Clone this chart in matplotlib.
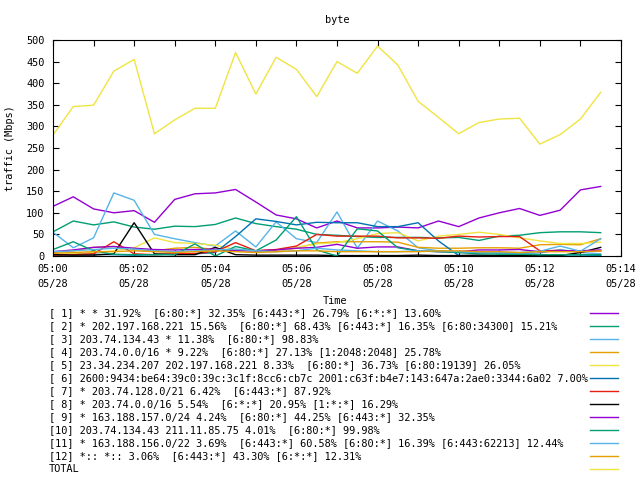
import matplotlib
matplotlib.use("Agg")
import matplotlib.pyplot as plt
import matplotlib.dates as mdates
from matplotlib.lines import Line2D
import pandas as pd

times = pd.date_range("2020-05-28 05:00:00", periods=28, freq="30s")

labels = [
    "[ 1] * * 31.92%  [6:80:*] 32.35% [6:443:*] 26.79% [6:*:*] 13.60%",
    "[ 2] * 202.197.168.221 15.56%  [6:80:*] 68.43% [6:443:*] 16.35% [6:80:34300] 15.21%",
    "[ 3] 203.74.134.43 * 11.38%  [6:80:*] 98.83%",
    "[ 4] 203.74.0.0/16 * 9.22%  [6:80:*] 27.13% [1:2048:2048] 25.78%",
    "[ 5] 23.34.234.207 202.197.168.221 8.33%  [6:80:*] 36.73% [6:80:19139] 26.05%",
    "[ 6] 2600:9434:be64:39c0:39c:3c1f:8cc6:cb7c 2001:c63f:b4e7:143:647a:2ae0:3344:6a02 7.00%",
    "[ 7] * 203.74.128.0/21 6.42%  [6:443:*] 87.92%",
    "[ 8] * 203.74.0.0/16 5.54%  [6:*:*] 20.95% [1:*:*] 16.29%",
    "[ 9] * 163.188.157.0/24 4.24%  [6:80:*] 44.25% [6:443:*] 32.35%",
    "[10] 203.74.134.43 211.11.85.75 4.01%  [6:80:*] 99.98%",
    "[11] * 163.188.156.0/22 3.69%  [6:443:*] 60.58% [6:80:*] 16.39% [6:443:62213] 12.44%",
    "[12] *:: *:: 3.06%  [6:443:*] 43.30% [6:*:*] 12.31%",
    "TOTAL",
]

s1 = [115, 137, 109, 100, 105, 78, 131, 144, 146, 154, 125, 95, 86, 65, 81, 65, 65, 67, 65, 81, 68, 88, 100, 110, 94, 106, 153, 161]
s2 = [56, 81, 72, 79, 67, 62, 69, 68, 73, 88, 75, 68, 62, 50, 48, 45, 43, 43, 43, 42, 43, 36, 46, 48, 54, 56, 56, 54]
s3 = [55, 19, 42, 146, 129, 50, 40, 31, 23, 58, 21, 79, 40, 31, 102, 18, 81, 58, 19, 12, 8, 8, 6, 5, 7, 15, 8, 5]
s4 = [8, 12, 20, 22, 15, 12, 18, 20, 15, 14, 12, 14, 18, 30, 33, 33, 33, 32, 20, 18, 18, 19, 19, 18, 26, 27, 26, 40]
s5 = [3, 5, 8, 12, 19, 42, 31, 29, 25, 15, 12, 10, 20, 28, 31, 40, 52, 54, 35, 46, 50, 55, 50, 42, 35, 29, 29, 32]
s6 = [2, 3, 4, 3, 2, 3, 4, 5, 8, 45, 86, 80, 72, 78, 77, 77, 68, 68, 77, 35, 1, 1, 0, 0, 1, 0, 0, 1]
s7 = [2, 3, 5, 33, 5, 3, 5, 6, 10, 31, 12, 15, 23, 50, 46, 46, 46, 42, 42, 41, 46, 44, 45, 45, 12, 13, 10, 12]
s8 = [3, 2, 2, 5, 77, 5, 3, 3, 20, 3, 2, 2, 2, 2, 1, 1, 1, 1, 2, 1, 1, 2, 1, 1, 2, 1, 8, 20]
s9 = [10, 14, 20, 22, 18, 15, 14, 15, 16, 12, 12, 14, 18, 20, 27, 18, 21, 21, 12, 10, 10, 14, 14, 15, 10, 12, 12, 14]
s10 = [15, 33, 12, 4, 3, 3, 3, 28, 0, 22, 12, 37, 91, 14, 0, 63, 58, 19, 12, 10, 8, 5, 4, 4, 3, 3, 3, 3]
s11 = [10, 12, 15, 18, 16, 12, 10, 12, 14, 16, 12, 10, 12, 18, 14, 12, 10, 10, 12, 12, 10, 8, 8, 8, 11, 23, 11, 40]
s12 = [6, 8, 10, 10, 12, 10, 8, 10, 12, 10, 8, 10, 12, 12, 10, 10, 10, 10, 10, 12, 12, 10, 10, 8, 10, 10, 10, 12]
total = [280, 346, 349, 428, 455, 283, 315, 342, 342, 471, 375, 460, 432, 369, 450, 423, 486, 442, 358, 321, 283, 309, 317, 319, 259, 281, 317, 379]

series = [s1, s2, s3, s4, s5, s6, s7, s8, s9, s10, s11, s12, total]
palette = ["#9400d3", "#009e73", "#56b4e9", "#e69f00", "#f0e442", "#0072b2", "#e51e10", "#000000"]
colors = [palette[i % 8] for i in range(12)] + [palette[4]]

FONT = "DejaVu Sans Mono"
FS = 7.4
plt.rcParams["font.family"] = FONT
plt.rcParams["font.size"] = FS

fig = plt.figure(figsize=(6.4, 4.8), dpi=100)
W, H = 640.0, 480.0
left, right, top, bottom = 53, 621, 40, 256
ax = fig.add_axes([left / W, 1 - bottom / H, (right - left) / W, (bottom - top) / H])

for vals, c in zip(series, colors):
    ax.plot(times, vals, color=c, lw=1.0)

ax.set_ylim(0, 500)
ax.set_xlim(pd.Timestamp("2020-05-28 05:00:00"), pd.Timestamp("2020-05-28 05:14:00"))
ax.set_yticks(range(0, 501, 50))
ax.xaxis.set_major_locator(mdates.MinuteLocator(byminute=range(0, 60, 2)))
ax.xaxis.set_minor_locator(mdates.MinuteLocator(byminute=range(1, 60, 2)))
ax.xaxis.set_major_formatter(mdates.DateFormatter("%H:%M\n%m/%d"))
ax.tick_params(axis="both", which="both", direction="in", top=True, right=True,
               length=4, width=0.8, labelsize=FS, pad=6)
for sp in ax.spines.values():
    sp.set_linewidth(0.8)
for lab in ax.get_xticklabels():
    lab.set_linespacing(1.55)

ax.set_title("byte", fontsize=FS, pad=12)
ax.set_ylabel("traffic (Mbps)", fontsize=FS, labelpad=8)
fig.text(335 / W, 1 - 301 / H, "Time", ha="center", va="center", fontsize=FS)

# legend drawn below the plot, gnuplot style
y0 = 313
for i, (lab, c) in enumerate(zip(labels, colors)):
    y = y0 + 13 * i
    fig.text(49 / W, 1 - y / H, lab, ha="left", va="center", fontsize=FS)
    fig.add_artist(Line2D([590 / W, 618 / W], [1 - y / H, 1 - y / H], color=c, lw=1.0,
                          transform=fig.transFigure))

fig.savefig("out.png", dpi=100)
